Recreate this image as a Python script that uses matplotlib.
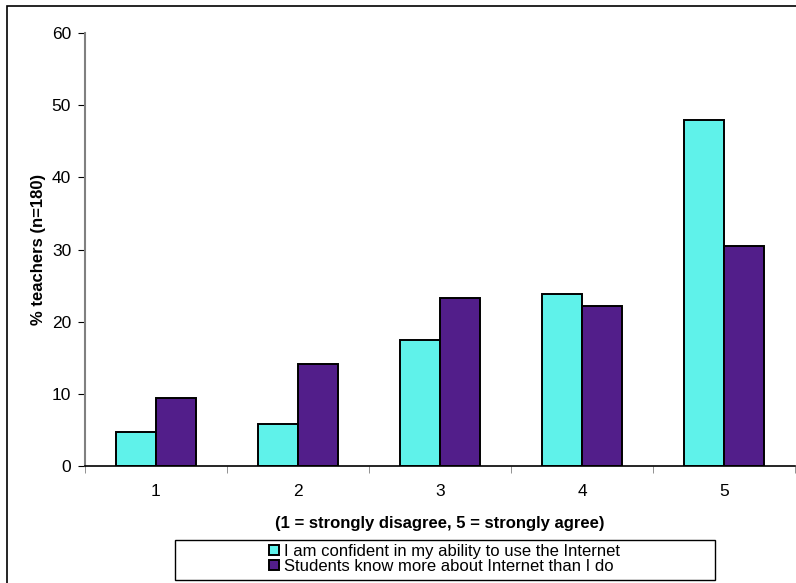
import matplotlib.pyplot as plt
import matplotlib.patches as mpatches
import numpy as np

plt.rcParams['font.family'] = ['Liberation Sans', 'DejaVu Sans']

categories = ['1', '2', '3', '4', '5']
confident = [4.7, 5.8, 17.4, 23.8, 48.0]
students_know_more = [9.4, 14.2, 23.3, 22.2, 30.5]
series_names = ['I am confident in my ability to use the Internet',
                'Students know more about Internet than I do']

W, H = 796, 583
fig = plt.figure(figsize=(W / 100, H / 100), dpi=100)
ax = fig.add_axes([85 / W, 1 - 466 / H, 710 / W, (466 - 33) / H])

x = np.arange(len(categories))
bw = 0.28
ax.bar(x - bw / 2, confident, bw, color='#5ff2ea', edgecolor='black', linewidth=1.4, label=series_names[0])
ax.bar(x + bw / 2, students_know_more, bw, color='#521e8a', edgecolor='black', linewidth=1.4, label=series_names[1])

ax.set_xlim(-0.5, len(categories) - 0.5)
ax.set_ylim(0, 60)
ax.set_yticks(range(0, 61, 10))
ax.set_xticks(x)
ax.set_xticklabels(categories)
ax.set_xticks(np.arange(-0.5, len(categories), 1), minor=True)
ax.tick_params(axis='x', which='major', length=0, pad=13, labelsize=12.5)
ax.tick_params(axis='x', which='minor', length=5, color='#808080', direction='out')
ax.tick_params(axis='y', length=5, direction='out', labelsize=12.5, pad=5)

for s in ['top', 'right']:
    ax.spines[s].set_visible(False)
ax.spines['left'].set_color('#808080')
ax.spines['left'].set_linewidth(1.5)
ax.spines['bottom'].set_color('black')
ax.spines['bottom'].set_linewidth(1.2)

ax.set_ylabel('% teachers (n=180)', fontweight='bold', fontsize=12, labelpad=4)
ax.set_xlabel('(1 = strongly disagree, 5 = strongly agree)', fontweight='bold', fontsize=12, labelpad=12)

# outer chart border (left and top visible only)
fig.add_artist(mpatches.Rectangle((7 / W, -0.1), 2, 1.1 - 6 / H, transform=fig.transFigure,
                                  fill=False, edgecolor='black', linewidth=1.2))

# legend box
fig.add_artist(mpatches.Rectangle((175 / W, 1 - 580 / H), 540 / W, 40 / H, transform=fig.transFigure,
                                  fill=False, edgecolor='black', linewidth=1.0))
fig.legend(loc='center', bbox_to_anchor=(445 / W, 1 - 559 / H), frameon=False, fontsize=12,
           handlelength=0.6, handleheight=0.6, handletextpad=0.3, labelspacing=0.0, borderpad=0)

fig.savefig('out.png', dpi=100)
